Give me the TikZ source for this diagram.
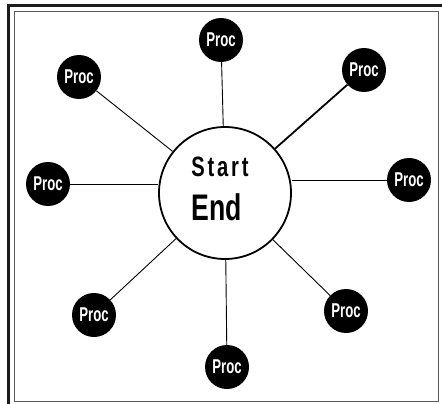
\documentclass[tikz,border=0pt]{standalone}
\usepackage{fontspec}
\usepackage{tikz}
\usetikzlibrary{positioning}
\usepackage{xcolor}
\newfontfamily\procfont{Liberation Sans}[FakeStretch=0.66]
\newfontfamily\endfont{Liberation Sans}[FakeStretch=0.72]
\newfontfamily\startfont{Liberation Sans}[FakeStretch=0.72,LetterSpace=10]
\definecolor{frameink}{HTML}{1C1C1C}
\definecolor{framegray}{HTML}{5A5A5A}

\begin{document}
\begin{tikzpicture}[x=1pt, y=-1pt,
    proc/.style={circle, fill=black, minimum size=44pt, inner sep=0pt,
      text=white, font=\procfont\bfseries\fontsize{20}{20}\selectfont},
    hub/.style={circle, draw, line width=1.8pt, minimum size=132pt, inner sep=0pt},
    spoke/.style={line width=0.9pt}]
  \useasboundingbox (0,0) rectangle (442,404);
  % Frame
  \draw[framegray, line width=1pt] (14,12) rectangle (438,401);
  \draw[frameink, line width=3pt] (8,404) -- (8,6) -- (442,6);
  % Centre circle
  \node[hub] (hub) at (225,193) {};
  \node[font=\startfont\bfseries\fontsize{28}{28}\selectfont] (start) at (220,167) {Start};
  \node[font=\endfont\bfseries\fontsize{37}{37}\selectfont] (end) at (217,207) {End};
  % Proc circles
  \foreach \nm/\x/\y in {pt/221/40, ptl/79/77, ptr/364/70, pl/48/184,
      pr/409/180, pbl/94/315, pb/227/367, pbr/346/311}
    \node[proc] (\nm) at (\x,\y) {Proc};
  % Spokes
  \draw[spoke] (pt) -- (hub);
  \draw[spoke] (ptl) -- (hub);
  \draw[spoke, line width=1.8pt] (ptr) -- (hub);
  \draw[spoke] (pl) -- (pl -| hub.west);
  \draw[spoke] (pr) -- (pr -| hub.east);
  \draw[spoke] (pbl) -- (hub);
  \draw[spoke] (pb) -- (hub);
  \draw[spoke] (pbr) -- (hub);
\end{tikzpicture}
\end{document}
